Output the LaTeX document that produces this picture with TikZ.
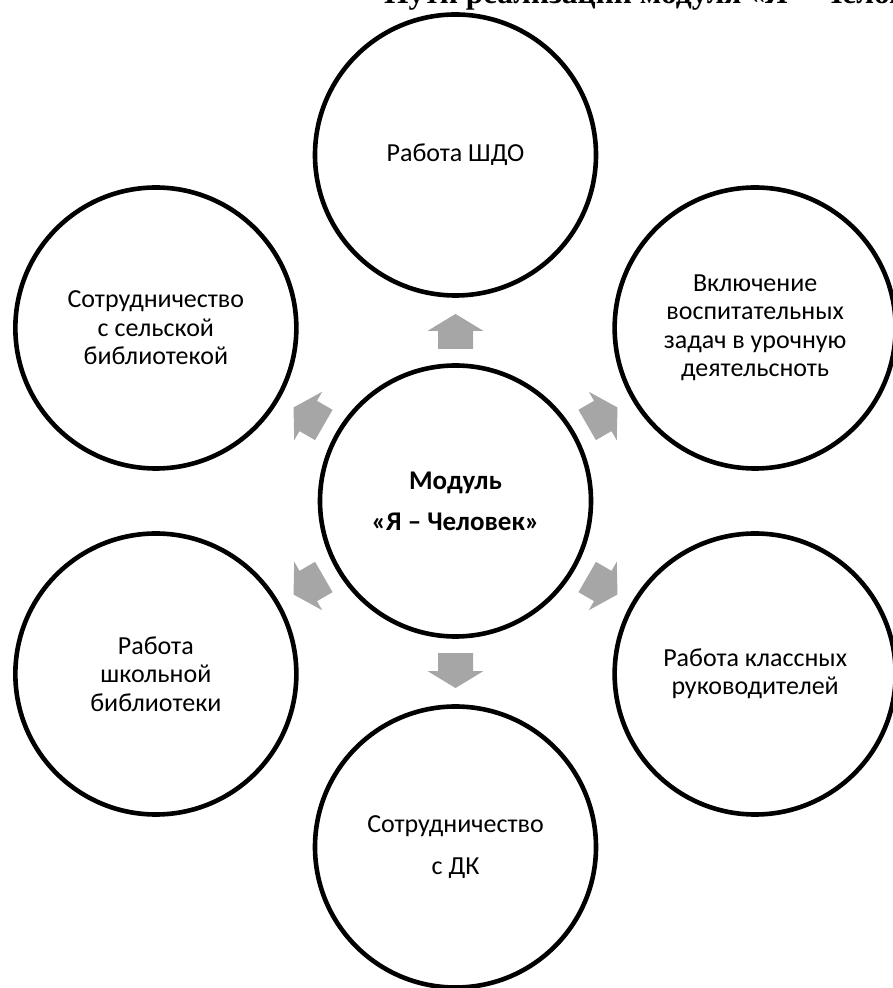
\documentclass[tikz,border=0pt]{standalone}
\usepackage{fontspec}
\setmainfont{Carlito}
\newfontfamily\titlefont{Liberation Serif}
\usetikzlibrary{calc}
\definecolor{arrowgray}{RGB}{166,166,166}
\tikzset{
  bubble/.style={circle, draw=black, line width=4.6pt, minimum size=281pt, inner sep=0pt, align=center, font=\fontsize{26}{28.5}\selectfont},
  widebubble/.style={bubble, font=\fontsize{26}{42}\selectfont},
  hub/.style={bubble, minimum size=271pt, font=\fontsize{27}{41}\selectfont\bfseries},
  blockarrow/.style={fill=arrowgray, draw=none},
}
\begin{document}
\begin{tikzpicture}[x=1pt,y=1pt]
\useasboundingbox (0,0) rectangle (893,988);
\clip (0,0) rectangle (893,988);
\node[anchor=base west, inner sep=0pt, font=\titlefont\bfseries\fontsize{31.5}{36}\selectfont] (title) at (384,984) {Пути реализации модуля «Я – Человек»};
\node[hub] (c) at (455.5,487) {Модуль\\«Я – Человек»};
\node[bubble] (n1) at ($(c)+(90:346)$) {Работа ШДО};
\node[bubble] (n2) at ($(c)+(30:346)$) {Включение\\воспитательных\\задач в урочную\\деятельсноть};
\node[bubble] (n3) at ($(c)+(-30:346)$) {Работа классных\\руководителей};
\node[widebubble] (n4) at ($(c)+(-90:346)$) {Сотрудничество\\с ДК};
\node[bubble] (n5) at ($(c)+(-150:346)$) {Работа\\школьной\\библиотеки};
\node[bubble] (n6) at ($(c)+(150:346)$) {Сотрудничество\\с сельской\\библиотекой};
\foreach \n/\a in {n1/90, n2/30, n3/-30, n4/-90, n5/-150, n6/150} {
  \coordinate (m\n) at ($(c)!0.49!(\n)$);
  \fill[blockarrow, shift={(m\n)}, rotate=\a]
    (-17.5,-17.5) -- (0.5,-17.5) -- (0.5,-28) -- (17.5,0) -- (0.5,28) -- (0.5,17.5) -- (-17.5,17.5) -- cycle;
}
\end{tikzpicture}
\end{document}
